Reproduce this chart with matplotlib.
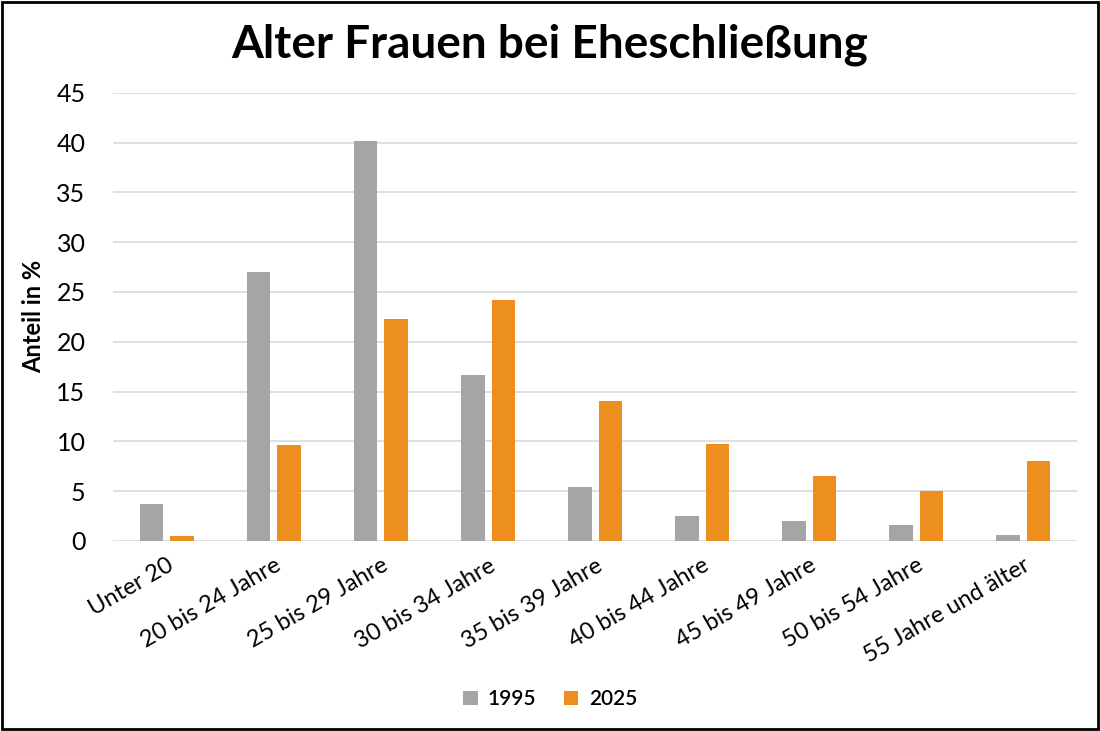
import numpy as np
import matplotlib.pyplot as plt
from matplotlib.patches import Rectangle

categories = ["Unter 20", "20 bis 24 Jahre", "25 bis 29 Jahre", "30 bis 34 Jahre",
              "35 bis 39 Jahre", "40 bis 44 Jahre", "45 bis 49 Jahre",
              "50 bis 54 Jahre", "55 Jahre und älter"]
values_1995 = [3.7, 27.0, 40.2, 16.7, 5.4, 2.5, 2.0, 1.6, 0.55]
values_2025 = [0.45, 9.6, 22.3, 24.2, 14.1, 9.7, 6.5, 5.0, 8.0]
yticks = [0, 5, 10, 15, 20, 25, 30, 35, 40, 45]

plt.rcParams['font.family'] = ['Lato', 'DejaVu Sans']

fig = plt.figure(figsize=(11, 7.31), dpi=100)
ax = fig.add_axes([0.103, 0.260, 0.876, 0.613])

x = np.arange(len(categories))
w = 0.22
ax.bar(x - 0.143, values_1995, w, color='#a5a5a5', label='1995', zorder=3)
ax.bar(x + 0.143, values_2025, w, color='#ed8f1f', label='2025', zorder=3)

ax.set_xlim(-0.5, len(categories) - 0.5)
ax.set_ylim(0, 45)
ax.set_yticks(yticks)
ax.yaxis.grid(True, color='#d9d9d9', linewidth=1.2, zorder=0)
for s in ax.spines.values():
    s.set_visible(False)
ax.tick_params(axis='y', length=0, labelsize=18, pad=20)
ax.set_xticks(x)
ax.set_xticklabels(categories, rotation=30, ha='right', rotation_mode='anchor', fontsize=17)
ax.tick_params(axis='x', length=0, pad=10)
ax.set_ylabel('Anteil in %', fontsize=17, fontweight='bold', labelpad=8)

fig.suptitle('Alter Frauen bei Eheschließung', fontsize=33, fontweight='bold', y=0.968)

fig.legend(loc='lower center', bbox_to_anchor=(0.5, 0.004), ncol=2, frameon=False,
           prop={'size': 15, 'weight': 'semibold'}, handlelength=0.7, handleheight=0.7,
           columnspacing=1.3, handletextpad=0.5)

fig.patches.append(Rectangle((0.002, 0.003), 0.996, 0.994, transform=fig.transFigure,
                             fill=False, edgecolor='black', linewidth=2))

fig.savefig('out.png', dpi=100)
